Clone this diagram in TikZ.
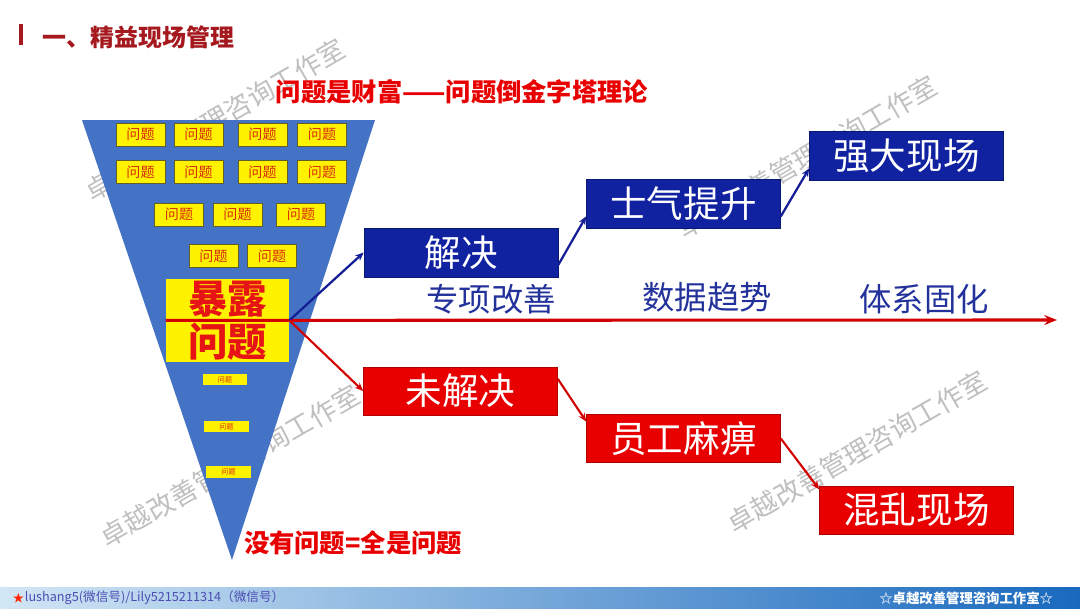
\documentclass[tikz,border=0pt]{standalone}
\usepackage{fontspec}
\setmainfont{Noto Sans CJK SC}
\usepackage{tikz}
\usetikzlibrary{arrows,arrows.meta,positioning,calc,shapes}
\usepackage{xcolor}

\begin{document}
\begin{tikzpicture}[x=0.025cm,y=-0.025cm,
  watermark/.style={text=gray!50,rotate=30,font=\fontsize{19}{19}\selectfont,inner sep=0pt},
  probbox/.style={fill=yellow,draw=olive!60!black,line width=0.3pt,text=probred,font=\fontsize{10}{10}\selectfont,minimum width=1.22cm,minimum height=0.57cm,inner sep=0pt},
  tinybox/.style={fill=yellow,text=probred,font=\fontsize{5}{5}\selectfont,minimum width=1.1cm,minimum height=0.28cm,inner sep=0pt},
  bigbox/.style={fill=yellow,text=hotred,font=\fontsize{28}{28}\selectfont\bfseries,minimum width=3.08cm,minimum height=1.03cm,inner sep=0pt},
  bluebox/.style={fill=stepblue,draw=stepblue!70!black,text=white,font=\fontsize{26}{26}\selectfont,minimum width=4.85cm,minimum height=1.22cm,inner sep=0pt},
  redbox/.style={fill=failred,draw=failred!75!black,text=white,font=\fontsize{26}{26}\selectfont,minimum width=4.85cm,minimum height=1.2cm,inner sep=0pt},
  phase/.style={text=phaseblue,font=\fontsize{23}{23}\selectfont},
  blueflow/.style={-{Stealth[length=6pt,width=5pt]},arrowblue,line width=1.6pt},
  redflow/.style={-{Stealth[length=6pt,width=5pt]},arrowred,line width=1.5pt},
  mainaxis/.style={-{Stealth[length=9pt,width=7pt]},arrowred,line width=2.2pt}]
% Define colors
\definecolor{pyrblue}{RGB}{68,114,196}
\definecolor{stepblue}{RGB}{16,34,160}
\definecolor{failred}{RGB}{232,0,0}
\definecolor{hotred}{RGB}{230,20,20}
\definecolor{probred}{RGB}{215,45,10}
\definecolor{phaseblue}{RGB}{35,50,155}
\definecolor{arrowblue}{RGB}{20,30,150}
\definecolor{arrowred}{RGB}{210,0,0}
\definecolor{titlered}{RGB}{165,25,30}
\definecolor{barleft}{RGB}{210,230,245}
\definecolor{barright}{RGB}{25,105,190}

\useasboundingbox (0,0) rectangle (1080,608);

% Watermarks
\node[watermark] (wm1) at (215,120) {卓越改善管理咨询工作室};
\node[watermark] (wm2) at (807,157) {卓越改善管理咨询工作室};
\node[watermark] (wm3) at (230,466) {卓越改善管理咨询工作室};
\node[watermark] (wm4) at (857,452) {卓越改善管理咨询工作室};

% Title
\fill[titlered] (19,24) rectangle (23,45);
\node[anchor=west,text=titlered,font=\fontsize{17}{17}\selectfont\bfseries] (title) at (38,37) {一、精益现场管理};
\node[text=failred,font=\fontsize{18}{18}\selectfont\bfseries] (subtitle) at (462,92) {问题是财富——问题倒金字塔理论};

% Inverted pyramid
\fill[pyrblue] (82,120) -- (375,120) -- (232,560) -- cycle;

% Problem boxes
\foreach \x [count=\i] in {140.5,198.5,262.5,322} {
  \node[probbox] (pa\i) at (\x,134.5) {问题};
  \node[probbox] (pb\i) at (\x,172) {问题};
}
\foreach \x [count=\i] in {179,237.5,301}
  \node[probbox] (pc\i) at (\x,214.5) {问题};
\foreach \x [count=\i] in {213.5,272}
  \node[probbox] (pd\i) at (\x,256) {问题};
\node[tinybox] (pe1) at (225,379.5) {问题};
\node[tinybox] (pe2) at (226.5,426.5) {问题};
\node[tinybox] (pe3) at (228.5,472) {问题};

% Exposure box
\node[bigbox] (bao) at (227.5,299.5) {暴露};
\node[bigbox,below=0pt of bao] (wen) {问题};
\node[text=failred,font=\fontsize{18}{18}\selectfont\bfseries] (nowenti) at (353,543) {没有问题=全是问题};

% Solved path
\node[bluebox] (jiejue) at (461,252.5) {解决};
\node[bluebox] (shiqi) at (683.5,204) {士气提升};
\node[bluebox] (qiangda) at (906.5,156) {强大现场};

% Unsolved path
\node[redbox] (weijiejue) at (460.5,391) {未解决};
\node[redbox] (yuangong) at (683.5,438.5) {员工麻痹};
\node[redbox] (hunluan) at (916.5,510) {混乱现场};

% Phases along the axis
\node[phase] (zhuanxiang) at (491,299) {专项改善};
\node[phase] (shuju) at (707,297) {数据趋势};
\node[phase] (tixi) at (924,299) {体系固化};

% Arrows
\coordinate (axisend) at (1057,320);
\draw[mainaxis] (bao.south west) -- (axisend);
\draw[blueflow] (bao.south east) -- (jiejue.west);
\draw[blueflow] ($(jiejue.east)!0.5!(jiejue.south east)$) -- ($(shiqi.west)!0.5!(shiqi.south west)$);
\draw[blueflow] ($(shiqi.east)!0.5!(shiqi.south east)$) -- ($(qiangda.west)!0.5!(qiangda.south west)$);
\draw[redflow] (bao.south east) -- (weijiejue.west);
\draw[redflow] ($(weijiejue.east)!0.5!(weijiejue.north east)$) -- ($(yuangong.north west)!0.3!(yuangong.west)$);
\draw[redflow] (yuangong.east) -- ($(hunluan.north west)!0.15!(hunluan.west)$);

% Footer bar
\shade[left color=barleft,right color=barright] (0,587) rectangle (1080,608);
\node[anchor=west,text=red!70!orange,font=\fontsize{8}{8}\selectfont] (star) at (8,598) {★};
\node[anchor=west,text=gray!60!blue,font=\fontsize{9}{9}\selectfont] (contact) at (20,598) {lushang5(微信号)/Lily5215211314（微信号）};
\node[anchor=east,text=white,font=\fontsize{9.5}{9.5}\selectfont\bfseries] (studio) at (1058,598) {☆卓越改善管理咨询工作室☆};
\end{tikzpicture}
\end{document}
